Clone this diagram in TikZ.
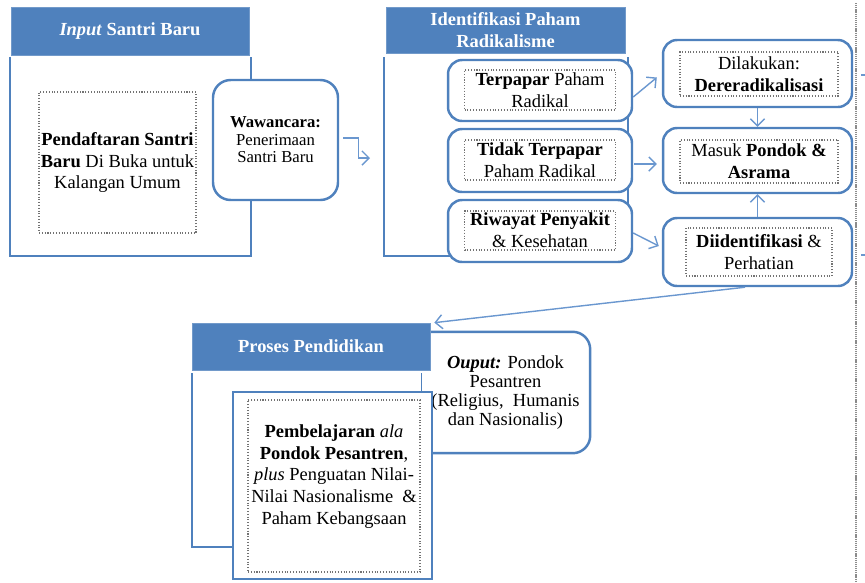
\documentclass[tikz,border=0pt]{standalone}
\usepackage{fontspec}
\setmainfont{Liberation Serif}
\usepackage{xcolor}
\usetikzlibrary{arrows.meta, positioning}
\definecolor{hdblue}{HTML}{4F81BD}
\definecolor{lnblue}{HTML}{6A97CF}

\begin{document}
\begin{tikzpicture}[
  x=0.02cm, y=-0.02cm,
  head/.style={rectangle, fill=hdblue, draw=hdblue!80!white, text=white,
               inner sep=0pt, align=center,
               font=\fontsize{10.5}{12.5}\selectfont\bfseries},
  frame/.style={draw=hdblue, line width=1.6pt},
  rbox/.style={rectangle, rounded corners=8pt, draw=hdblue, line width=1.4pt,
               fill=white, inner sep=0pt, align=center,
               font=\fontsize{10.5}{11.5}\selectfont},
  sbox/.style={rectangle, draw=hdblue, line width=1.4pt, fill=white},
  dbox/.style={rectangle, draw=black!55, densely dotted, line width=0.6pt,
               inner sep=0pt, align=center,
               font=\fontsize{10.5}{12.5}\selectfont},
  arrow/.style={-{Straight Barb[length=4pt,width=8pt]}, draw=lnblue, line width=0.8pt}
]
  \useasboundingbox (0,0) rectangle (865,582);

  % input
  \node (inhd) [head, minimum width=4.76cm, minimum height=0.96cm] at (130,31) {\textit{Input} Santri Baru};
  \draw[frame] (10,57) -- (10,256) -- (251,256) -- (251,57);
  \node (daftar) [dbox, minimum width=3.14cm, minimum height=2.82cm] at (117.5,162.5)
    {\textbf{Pendaftaran Santri}\\\textbf{Baru} Di Buka untuk\\Kalangan Umum};
  \node (waw) [rbox, minimum width=2.5cm, minimum height=2.4cm, rounded corners=10pt,
               font=\fontsize{9.5}{10}\selectfont] at (275.5,140)
    {\textbf{Wawancara:}\\Penerimaan\\Santri Baru};
  \coordinate (idin) at (370,158);
  \draw[arrow] ([xshift=0.08cm,yshift=0.04cm]waw.east) -- ++(15,0) |- (idin);

  % identifikasi
  \node (idhd) [head, minimum width=4.78cm, minimum height=0.92cm] at (505.5,30) {Identifikasi Paham\\Radikalisme};
  \draw[frame] (384,57) -- (384,256) -- (628,256) -- (628,57);
  \node (terp)  [rbox, minimum width=3.68cm, minimum height=1.22cm] at (540,90.5) {};
  \node (terpt) [dbox, minimum width=3.02cm, minimum height=0.8cm] at (540,90) {\textbf{Terpapar} Paham\\Radikal};
  \node (tdk)   [rbox, minimum width=3.68cm, minimum height=1.26cm] at (540,160.5) {};
  \node (tdkt)  [dbox, minimum width=3.02cm, minimum height=0.8cm] at (540,160) {\textbf{Tidak Terpapar}\\Paham Radikal};
  \node (riw)   [rbox, minimum width=3.68cm, minimum height=1.24cm] at (540,231) {};
  \node (riwt)  [dbox, minimum width=3.02cm, minimum height=0.78cm] at (540,230.5) {\textbf{Riwayat Penyakit}\\\& Kesehatan};

  % tindak lanjut
  \node (dil)   [rbox, minimum width=3.78cm, minimum height=1.34cm] at (757.5,73.5) {};
  \node (dilt)  [dbox, minimum width=3.16cm, minimum height=0.88cm] at (759,74) {Dilakukan:\\\textbf{Dereradikalisasi}};
  \node (msk)   [rbox, minimum width=3.78cm, minimum height=1.3cm] at (757.5,160.5) {};
  \node (mskt)  [dbox, minimum width=3.16cm, minimum height=0.86cm] at (759,161.5) {Masuk \textbf{Pondok \&}\\\textbf{Asrama}};
  \node (diid)  [rbox, minimum width=3.78cm, minimum height=1.36cm] at (757.5,252) {};
  \node (diidt) [dbox, minimum width=2.92cm, minimum height=0.96cm] at (759,252) {\textbf{Diidentifikasi} \&\\Perhatian};

  \draw[arrow] ([yshift=-0.13cm]terp.east) -- ([xshift=-0.1cm,yshift=-0.08cm]dil.west);
  \draw[arrow] ([xshift=0.02cm,yshift=-0.07cm]tdk.east) -- ([xshift=-0.1cm,yshift=-0.07cm]msk.west);
  \draw[arrow] ([yshift=-0.04cm]riw.east) -- ([xshift=-0.06cm,yshift=0.12cm]diid.west);
  \draw[arrow] (dil.south) -- (msk.north);
  \draw[arrow] (diid.north) -- (msk.south);

  % garis tepi kanan
  \draw[black!45, line width=1.3pt, dash pattern=on 0.7pt off 0.5pt] (856,3) -- (856,582);
  \coordinate (cuta) at (866,75);
  \coordinate (cutb) at (866,255);
  \draw[lnblue, line width=0.8pt] (861,75) -- (cuta);
  \draw[lnblue, line width=0.8pt] (861,255) -- (cutb);

  % proses
  \draw[frame] (192,373) -- (192,547) -- (422,547) -- (422,373);
  \node (out) [rbox, draw=none, minimum width=3.34cm, minimum height=2.38cm,
               font=\fontsize{10.5}{10.8}\selectfont] at (505.5,392.5)
    {\textbf{\textit{Ouput:}} Pondok\\Pesantren\\(Religius,~ Humanis\\dan Nasionalis)};
  \draw[hdblue, line width=1.4pt, rounded corners=10pt]
    (out.north west) -- (out.north east) -- (out.south east) -- (out.south west);
  \node (prhd) [head, minimum width=4.76cm, minimum height=0.94cm] at (311,346.5) {Proses Pendidikan};
  \node (ajar)  [sbox, minimum width=3.98cm, minimum height=3.74cm] at (332.5,485.5) {};
  \node (ajard) [dbox, minimum width=3.44cm, minimum height=3.44cm] at (334,486) {};
  \node (ajart) [align=center, inner sep=0pt, font=\fontsize{10.5}{12.3}\selectfont] at (334,476.5)
    {\textbf{Pembelajaran} \textit{ala}\\\textbf{Pondok Pesantren},\\\textit{plus} Penguatan Nilai-\\Nilai Nasionalisme~ \&\\Paham Kebangsaan};

  \draw[arrow] ([xshift=-0.25cm]diid.south) -- ([xshift=0.08cm]prhd.north east);
\end{tikzpicture}
\end{document}
